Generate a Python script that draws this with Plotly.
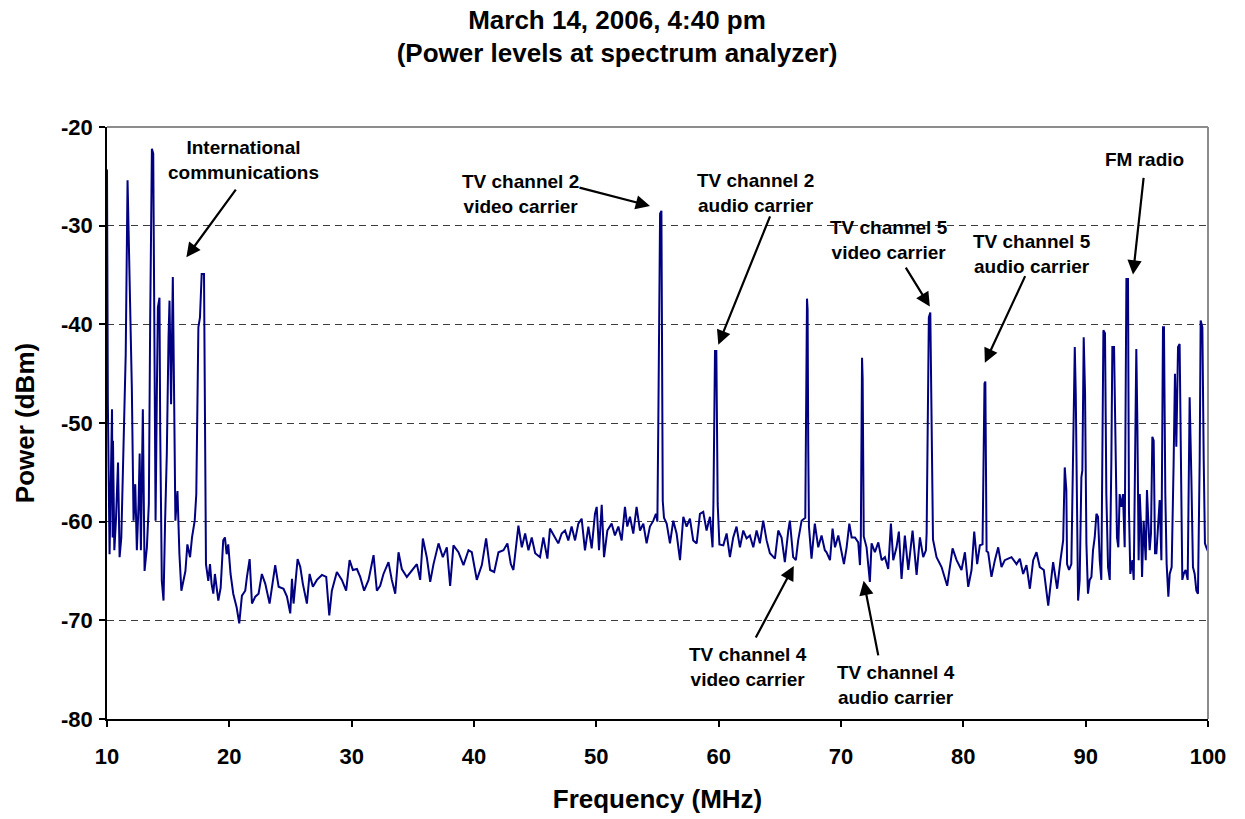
import plotly.graph_objects as go

# ---- Spectrum readings (frequency MHz, power dBm) ----
freq_a = [10.0, 10.02, 10.07, 10.21, 10.41, 10.46, 10.49, 10.6, 10.73, 10.9, 11.03, 11.17, 11.36, 11.53,
          11.68, 11.76, 11.84, 12.03, 12.17, 12.31, 12.44, 12.58, 12.67, 12.77, 12.93, 13.07, 13.26, 13.42,
          13.53, 13.67, 13.78, 13.89, 13.97, 14.08, 14.16, 14.29, 14.35, 14.48, 14.62, 14.75, 14.89, 15.03,
          15.11, 15.24, 15.38, 15.49, 15.59, 15.76, 15.92, 16.08, 16.25, 16.41, 16.57, 16.79, 16.95, 17.17,
          17.3, 17.47, 17.6, 17.74, 17.93, 18.01, 18.09, 18.28, 18.42, 18.55, 18.69, 18.82, 19.1, 19.29,
          19.5, 19.64, 19.78, 19.91, 20.1, 20.32, 20.6, 20.73]
power_a = [-24.3, -31.9, -48.1, -63.3, -48.6, -61.6, -51.8, -62.9, -59.9, -54.0, -63.6, -61.6, -53.1, -43.0,
           -25.4, -29.5, -33.9, -46.4, -59.9, -56.2, -62.9, -58.2, -53.1, -62.9, -48.6, -65.0, -62.6, -58.2,
           -39.6, -22.2, -22.7, -39.6, -59.9, -46.4, -38.3, -37.3, -50.8, -66.0, -68.0, -59.9, -53.1, -41.3,
           -37.6, -48.1, -35.2, -47.7, -59.9, -56.9, -63.3, -67.0, -66.0, -65.0, -62.3, -63.6, -61.6, -59.9,
           -57.2, -40.3, -39.3, -34.9, -34.9, -54.8, -64.3, -66.0, -64.3, -66.3, -67.3, -65.3, -68.0, -66.7,
           -61.9, -61.6, -63.3, -62.3, -65.3, -67.3, -68.7, -69.7]

freq_b = [20.81, 21.03, 21.3, 21.44, 21.66, 21.85, 22.12, 22.39, 22.66, 22.94, 23.29, 23.75, 24.03, 24.43,
          24.71, 24.98, 25.12, 25.25, 25.58, 25.8, 26.01, 26.34, 26.56, 26.83, 27.16, 27.57, 27.92, 28.17,
          28.38, 28.79, 29.2, 29.55, 29.83, 30.1, 30.43, 30.7, 31.02, 31.38, 31.79, 32.06, 32.33, 32.6,
          33.01, 33.28, 33.56, 33.83, 34.1, 34.51, 34.92, 35.33, 35.6, 35.82, 36.14, 36.42, 36.69, 37.1,
          37.45, 37.78, 38.05, 38.32, 38.73, 39.14, 39.55, 39.82, 40.23, 40.64, 40.99, 41.32, 41.65, 42.0,
          42.41, 42.73, 43.01, 43.22, 43.63, 43.91, 44.18, 44.45, 44.72, 45.0]
power_b = [-70.3, -67.5, -67.0, -65.6, -63.8, -68.3, -67.6, -67.3, -65.3, -66.3, -68.3, -64.4, -66.6, -66.8,
           -67.6, -69.3, -65.8, -68.3, -63.8, -64.6, -66.3, -68.3, -65.3, -66.6, -65.9, -65.4, -65.6, -69.5,
           -67.0, -65.1, -65.9, -67.0, -63.9, -64.9, -64.8, -65.6, -67.0, -65.9, -63.4, -67.0, -66.5, -65.3,
           -64.1, -65.9, -67.3, -63.1, -64.8, -65.6, -64.9, -64.3, -65.9, -61.7, -63.6, -66.1, -64.3, -62.2,
           -63.6, -62.6, -66.5, -62.4, -63.1, -64.4, -62.9, -63.1, -65.9, -64.4, -61.7, -64.9, -65.1, -63.1,
           -62.9, -62.2, -64.3, -64.9, -60.4, -62.6, -61.2, -62.9, -61.6, -63.2]

freq_c = [45.4, 45.67, 46.0, 46.21, 46.62, 46.89, 47.17, 47.44, 47.71, 47.98, 48.26, 48.53, 48.8, 49.07,
          49.35, 49.62, 49.89, 50.03, 50.22, 50.44, 50.63, 50.9, 51.25, 51.52, 51.8, 52.07, 52.34, 52.53,
          52.75, 53.02, 53.29, 53.57, 53.84, 54.11, 54.38, 54.66, 54.87, 54.99, 55.07, 55.15, 55.21, 55.32,
          55.37, 55.43, 55.53, 55.75, 56.02, 56.29, 56.56, 56.84, 57.11, 57.38, 57.65, 57.92, 58.2, 58.47,
          58.74, 59.01, 59.29, 59.5, 59.57, 59.65, 59.7, 59.81, 59.86, 59.92, 60.06, 60.38, 60.65, 60.92,
          61.19, 61.46, 61.74, 62.01, 62.28, 62.55, 62.83, 63.1, 63.37, 63.64, 63.92, 64.19, 64.6, 64.87,
          65.14, 65.41, 65.69, 65.82, 66.09, 66.31, 66.5, 66.78, 67.08, 67.15, 67.22, 67.27, 67.32, 67.38,
          67.59, 67.86, 68.14, 68.41, 68.68]
power_c = [-63.6, -61.6, -63.75, -60.7, -61.6, -62.2, -61.2, -60.9, -61.9, -60.5, -61.9, -60.2, -59.7, -62.9,
           -60.5, -62.7, -59.2, -58.5, -62.9, -58.3, -63.6, -60.9, -60.2, -61.4, -60.5, -61.9, -58.5, -60.5,
           -59.5, -61.2, -58.5, -60.9, -60.2, -62.2, -60.5, -59.9, -59.2, -60.0, -49.4, -36.2, -28.8, -28.5,
           -43.3, -57.9, -59.6, -60.2, -62.2, -59.9, -61.2, -63.9, -59.5, -60.5, -59.7, -61.9, -62.2, -59.2,
           -59.0, -60.9, -59.5, -62.6, -58.2, -48.1, -42.7, -42.7, -49.8, -58.2, -62.3, -62.4, -61.2, -63.6,
           -61.6, -60.5, -62.6, -60.9, -61.7, -61.4, -62.6, -60.9, -62.2, -59.9, -61.9, -63.2, -63.75, -60.9,
           -61.6, -64.1, -60.9, -59.9, -63.6, -63.9, -61.9, -59.9, -59.6, -50.4, -37.4, -38.5, -52.0, -60.5,
           -63.75, -60.2, -62.6, -61.4, -62.9]

freq_d = [68.82, 69.1, 69.31, 69.51, 69.78, 70.05, 70.24, 70.46, 70.68, 70.87, 71.14, 71.41, 71.55, 71.62,
          71.72, 71.77, 71.8, 71.86, 72.09, 72.36, 72.5, 72.77, 73.05, 73.32, 73.59, 73.86, 74.08, 74.27,
          74.54, 74.73, 74.95, 75.22, 75.5, 75.85, 76.18, 76.45, 76.72, 76.94, 77.0, 77.1, 77.18, 77.3,
          77.36, 77.42, 77.52, 77.81, 78.22, 78.68, 79.12, 79.45, 79.85, 80.13, 80.4, 80.67, 80.89, 81.13,
          81.35, 81.57, 81.66, 81.73, 81.8, 81.84, 81.9, 82.03, 82.3, 82.58, 82.85, 83.12, 83.39, 83.67,
          83.94, 84.35, 84.62, 84.89, 85.16, 85.44, 85.71, 85.98, 86.25, 86.58, 86.94, 87.34, 87.67, 87.94,
          88.16]
power_d = [-63.1, -63.9, -60.7, -62.6, -61.4, -63.1, -64.3, -62.6, -60.2, -61.6, -61.6, -62.1, -64.4, -61.6,
           -43.4, -45.5, -54.8, -61.5, -62.6, -66.1, -62.2, -63.1, -62.1, -63.9, -63.6, -64.8, -60.2, -63.9,
           -62.6, -61.0, -65.8, -61.4, -64.9, -60.9, -65.4, -61.6, -63.6, -62.9, -61.2, -50.1, -39.3, -38.8,
           -45.0, -54.8, -61.8, -63.6, -64.6, -66.5, -62.7, -63.9, -64.9, -63.1, -66.6, -64.9, -61.0, -64.3,
           -62.4, -62.3, -53.8, -46.0, -45.8, -53.0, -63.0, -63.1, -65.6, -63.9, -62.6, -64.6, -63.9, -63.75,
           -63.6, -64.3, -63.75, -65.3, -64.4, -66.8, -63.9, -63.1, -64.6, -64.9, -68.5, -64.1, -66.8, -63.9,
           -61.9]

freq_e = [88.29, 88.42, 88.48, 88.64, 88.83, 88.97, 89.11, 89.19, 89.3, 89.38, 89.51, 89.65, 89.73, 89.84,
          89.95, 90.06, 90.19, 90.33, 90.47, 90.6, 90.74, 90.88, 91.01, 91.15, 91.28, 91.37, 91.45, 91.58,
          91.69, 91.83, 91.97, 92.1, 92.18, 92.32, 92.43, 92.56, 92.67, 92.78, 92.92, 93.05, 93.19, 93.27,
          93.33, 93.46, 93.54, 93.65, 93.82, 93.93, 94.03, 94.14, 94.23, 94.33, 94.42, 94.52, 94.61, 94.74,
          94.91, 95.01, 95.12, 95.23, 95.34, 95.45, 95.56, 95.67, 95.78, 95.94, 96.05, 96.19, 96.32, 96.4,
          96.51, 96.62, 96.76, 96.87, 97.03, 97.19, 97.3, 97.41, 97.55, 97.68, 97.79, 97.9, 98.01, 98.17,
          98.34, 98.5, 98.64, 98.77, 98.91, 99.05, 99.18, 99.32, 99.4, 99.54, 99.65, 99.75, 99.86, 100.0]
power_e = [-54.5, -56.8, -64.3, -64.9, -64.3, -52.1, -42.3, -47.0, -63.9, -68.0, -65.9, -55.5, -54.8, -41.3,
           -47.0, -62.2, -67.3, -65.9, -65.6, -62.9, -61.6, -59.2, -59.5, -63.9, -65.9, -52.1, -40.6, -40.9,
           -57.2, -64.6, -65.9, -53.8, -42.3, -42.3, -53.8, -61.6, -62.6, -57.2, -58.5, -57.2, -62.6, -45.3,
           -35.4, -35.4, -58.9, -65.3, -63.9, -65.9, -50.4, -42.5, -50.4, -63.9, -57.2, -60.2, -65.6, -59.9,
           -63.9, -56.8, -59.9, -62.9, -61.2, -51.4, -51.8, -63.2, -63.2, -60.5, -57.8, -63.9, -40.3, -40.3,
           -57.2, -64.3, -67.6, -65.3, -64.6, -54.1, -45.0, -52.4, -42.3, -42.0, -55.5, -65.9, -65.3, -64.9,
           -65.9, -47.4, -55.5, -64.6, -65.3, -67.0, -67.3, -53.8, -39.6, -40.3, -53.8, -62.2, -62.6, -63.0]

freq = freq_a + freq_b + freq_c + freq_d + freq_e
power = power_a + power_b + power_c + power_d + power_e

x_ticks = [10, 20, 30, 40, 50, 60, 70, 80, 90, 100]
y_ticks = [-80, -70, -60, -50, -40, -30, -20]

# Label text, label centre (MHz, dBm), arrow head and arrow tail (MHz, dBm)
labels = ["International<br>communications", "TV channel 2<br>video carrier",
          "TV channel 2<br>audio carrier", "TV channel 5<br>video carrier",
          "TV channel 5<br>audio carrier", "FM radio",
          "TV channel 4<br>video carrier", "TV channel 4<br>audio carrier"]
label_x = [21.14, 43.81, 63.05, 73.91, 85.6, 94.83, 62.39, 74.48]
label_y = [-23.36, -26.81, -26.71, -31.47, -32.89, -23.3, -74.68, -76.56]
head_x = [16.49, 54.39, 59.97, 77.26, 81.76, 93.87, 66.14, 71.85]
head_y = [-33.2, -28.0, -42.06, -38.2, -43.9, -34.96, -64.5, -66.0]
tail_x = [20.62, 48.5, 64.25, 75.22, 85.11, 94.75, 62.97, 73.07]
tail_y = [-26.2, -26.1, -28.9, -34.1, -34.96, -25.0, -71.9, -73.7]

FONT = "Arial, 'Liberation Sans', sans-serif"

fig = go.Figure()
fig.add_trace(go.Scatter(x=freq, y=power, mode="lines",
                         line=dict(color="#000080", width=2),
                         hoverinfo="x+y", showlegend=False))

annotations = []
for t, lx, ly in zip(labels, label_x, label_y):
    annotations.append(dict(x=lx, y=ly, xref="x", yref="y", text="<b>" + t + "</b>",
                            showarrow=False, align="center", xanchor="center", yanchor="middle",
                            font=dict(family=FONT, size=19, color="black")))
for hx, hy, tx, ty in zip(head_x, head_y, tail_x, tail_y):
    annotations.append(dict(x=hx, y=hy, xref="x", yref="y", ax=tx, ay=ty, axref="x", ayref="y",
                            text="", showarrow=True, arrowhead=2, arrowsize=1.3, arrowwidth=2.2,
                            arrowcolor="black"))

tick_x_text = ["<b>%d</b>" % v for v in x_ticks]
tick_y_text = ["<b>%d</b>" % v for v in y_ticks]

# The page body adds an 8px offset, so margins are reduced by 8px on the left/top.
fig.update_layout(
    width=1245, height=819,
    margin=dict(l=99, r=45, t=119, b=108),
    paper_bgcolor="white", plot_bgcolor="white",
    font=dict(family=FONT, color="black"),
    title=dict(text="<b>March 14, 2006, 4:40 pm<br>(Power levels at spectrum analyzer)</b>",
               x=609 / 1245, xref="container", xanchor="center",
               y=1 - 20.5 / 819, yref="container", yanchor="middle",
               font=dict(family=FONT, size=26, color="black")),
    xaxis=dict(range=[10, 100], tickvals=x_ticks, ticktext=tick_x_text, automargin=False,
               ticks="outside", ticklen=6, tickwidth=1.5, tickcolor="black",
               showline=True, linecolor="black", linewidth=2, showgrid=False, zeroline=False,
               tickfont=dict(family=FONT, size=22, color="black"), ticklabelstandoff=11,
               title=dict(text="<b>Frequency (MHz)</b>", standoff=21,
                          font=dict(family=FONT, size=26, color="black"))),
    yaxis=dict(range=[-80, -20], tickvals=y_ticks, ticktext=tick_y_text, automargin=False,
               ticks="outside", ticklen=6, tickwidth=1.5, tickcolor="black",
               showline=True, linecolor="black", linewidth=1.5,
               showgrid=True, gridcolor="#3c3c3c", gridwidth=1, griddash="7px,5px", zeroline=False,
               tickfont=dict(family=FONT, size=22, color="black"), ticklabelstandoff=2,
               title=dict(text="<b>Power (dBm)</b>", standoff=19,
                          font=dict(family=FONT, size=26, color="black"))),
    annotations=annotations,
    shapes=[
        dict(type="line", xref="paper", yref="paper", x0=0, x1=1, y0=1, y1=1,
             line=dict(color="#8c8c8c", width=2), layer="above"),
        dict(type="line", xref="paper", yref="paper", x0=1, x1=1, y0=0, y1=1,
             line=dict(color="#8c8c8c", width=2), layer="above"),
    ],
)

fig.write_html("out.html")
